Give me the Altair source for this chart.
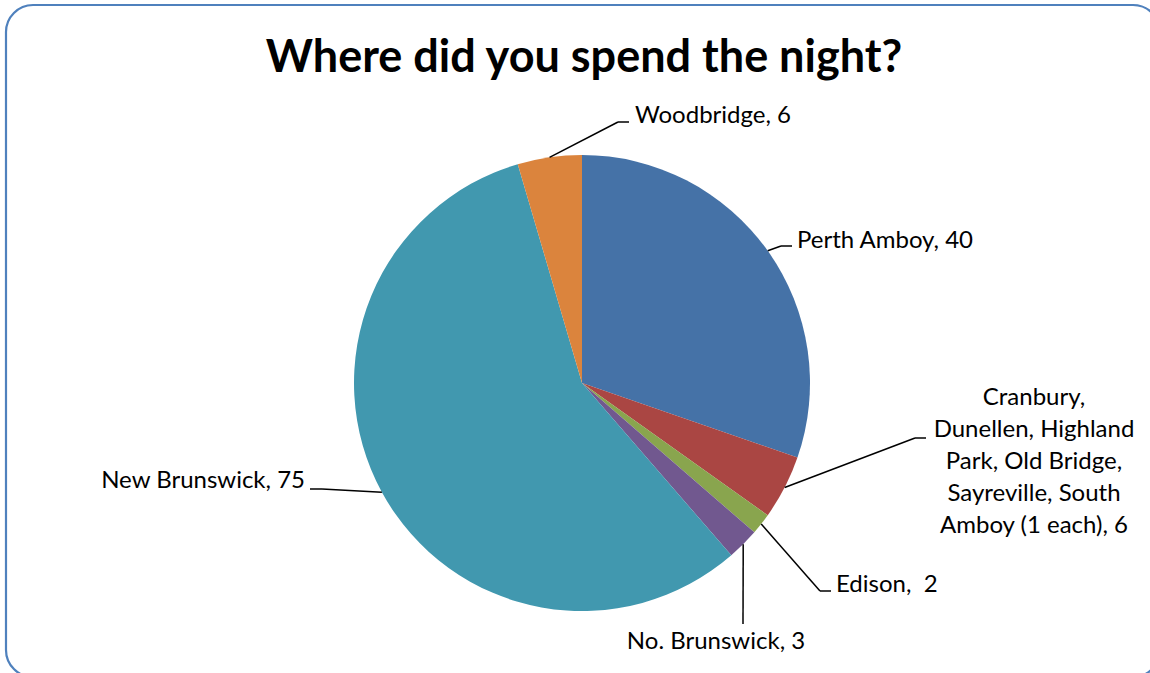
import altair as alt
import pandas as pd

# ---- data ----
categories = [
    "Perth Amboy",
    "Cranbury, Dunellen, Highland Park, Old Bridge, Sayreville, South Amboy (1 each)",
    "Edison",
    "No. Brunswick",
    "New Brunswick",
    "Woodbridge",
]
values = [40, 6, 2, 3, 75, 6]
label_lines = [
    ["Perth Amboy, 40"],
    ["Cranbury,", "Dunellen, Highland", "Park, Old Bridge,", "Sayreville, South", "Amboy (1 each), 6"],
    ["Edison,\u00a0 2"],
    ["No. Brunswick, 3"],
    ["New Brunswick, 75"],
    ["Woodbridge, 6"],
]
colors = ["#4572A7", "#AA4643", "#89A54E", "#71588F", "#4198AF", "#DB843D"]
title_text = "Where did you spend the night?"

# ---- layout (label placement) ----
W, H = 1150, 673
CX, CY, R = 582, 383, 228
elbow_x = [781, 915, 820, 743, 322, 618]
elbow_y = [246, 438, 591, 624, 489, 122]
end_x = [792, 926, 831, 743, 310, 629]
text_x = [797, 1034, 836, 716, 305, 635]
text_y = [241, 398, 585, 642, 481, 116]
text_align = ["left", "center", "left", "center", "right", "left"]
FONT = "Lato"

df = pd.DataFrame({
    "category": categories,
    "value": values,
    "order": list(range(len(categories))),
    "label": label_lines,
    "bx": elbow_x,
    "by": elbow_y,
    "hx": end_x,
    "tx": text_x,
    "ty": text_y,
    "align": text_align,
})

pie = alt.Chart(df).mark_arc(outerRadius=R, stroke=None).encode(
    theta=alt.Theta("value:Q", stack=True),
    color=alt.Color("category:N", scale=alt.Scale(domain=categories, range=colors), legend=None),
    order=alt.Order("order:Q"),
    x=alt.value(CX),
    y=alt.value(CY),
)

geo = alt.Chart(df).transform_window(
    cum="sum(value)", sort=[alt.SortField("order")], frame=[None, 0]
).transform_joinaggregate(
    total="sum(value)"
).transform_calculate(
    mid="(datum.cum - datum.value/2) / datum.total * 2 * PI",
    ex=f"{CX} + {R} * sin(datum.mid)",
    ey=f"{CY} - {R} * cos(datum.mid)",
)

lead1 = geo.mark_rule(color="black", strokeWidth=1.5).encode(
    x=alt.X("ex:Q", scale=None, axis=None),
    y=alt.Y("ey:Q", scale=None, axis=None),
    x2="bx:Q",
    y2="by:Q",
)
lead2 = geo.mark_rule(color="black", strokeWidth=1.5).encode(
    x=alt.X("bx:Q", scale=None, axis=None),
    y=alt.Y("by:Q", scale=None, axis=None),
    x2="hx:Q",
)

texts = []
for a in ["left", "center", "right"]:
    texts.append(
        alt.Chart(df).transform_filter(alt.datum.align == a).mark_text(
            font=FONT, fontSize=24, align=a, baseline="middle", lineHeight=32, color="black"
        ).encode(
            x=alt.X("tx:Q", scale=None, axis=None),
            y=alt.Y("ty:Q", scale=None, axis=None),
            text="label",
        )
    )

title = alt.Chart(pd.DataFrame({"t": [title_text]})).mark_text(
    font=FONT, fontSize=45, fontWeight="bold", align="center", baseline="middle", color="black"
).encode(x=alt.value(584), y=alt.value(58), text="t:N")

border = alt.Chart(pd.DataFrame({"t": [0]})).mark_rect(
    fill="transparent", stroke="#4F81BD", strokeWidth=2.2, cornerRadius=27
).encode(x=alt.value(6), x2=alt.value(1160), y=alt.value(5), y2=alt.value(677))

chart = alt.layer(border, pie, lead1, lead2, *texts, title).properties(
    width=W, height=H, padding=0, autosize=alt.AutoSizeParams(type="none"),
    background="white",
).configure_view(stroke=None)

chart.save("out.html", embed_options={"renderer": "svg", "actions": False})
